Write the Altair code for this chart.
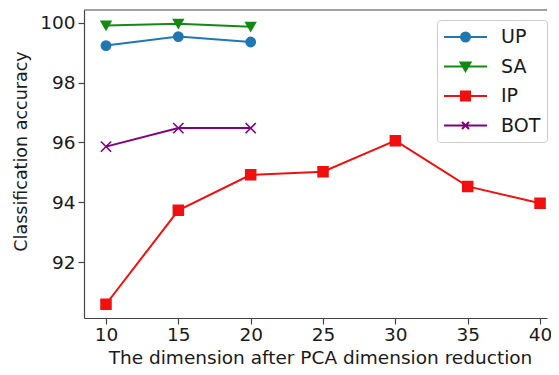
import altair as alt
import pandas as pd

series = ["UP", "SA", "IP", "BOT"]
colors = ["#1f77b4", "#138a13", "#f01010", "#800080"]
dims_short = [10, 15, 20]
dims_long = [10, 15, 20, 25, 30, 35, 40]
up = [99.24, 99.54, 99.36]
sa = [99.91, 99.97, 99.87]
ip = [90.59, 93.73, 94.92, 95.02, 96.06, 94.53, 93.97]
bot = [95.86, 96.48, 96.48]
x_ticks = [10, 15, 20, 25, 30, 35, 40]
y_ticks = [92, 94, 96, 98, 100]

rows = []
for name, xs, ys in [("UP", dims_short, up), ("SA", dims_short, sa),
                     ("IP", dims_long, ip), ("BOT", dims_short, bot)]:
    for xv, yv in zip(xs, ys):
        rows.append({"series": name, "dim": xv, "acc": yv})
df = pd.DataFrame(rows)

X_PATH = "M-1,-1L1,1M-1,1L1,-1"
marker_shapes = ["circle", "triangle-down", "square", X_PATH]
marker_sizes = [85, 105, 95, 60]
legend_shapes = [
    "M-1,0H3.3M0.7,0A0.45,0.45,0,1,0,1.6,0A0.45,0.45,0,1,0,0.7,0Z",
    "M-1,0H3.3M0.65,-0.4H1.65L1.15,0.45Z",
    "M-1,0H3.3M0.7,-0.45H1.6V0.45H0.7Z",
    "M-1,0H3.3M0.8,-0.35L1.5,0.35M0.8,0.35L1.5,-0.35",
]

W, H = 463, 308
ink = "#1a1a1a"
frame = "#444444"

xscale = alt.Scale(domain=[8.48, 40.48], nice=False, zero=False)
yscale = alt.Scale(domain=[90.13, 100.43], nice=False, zero=False)
cscale = alt.Scale(domain=series, range=colors)

x_enc = alt.X("dim:Q", scale=xscale, axis=alt.Axis(
    values=x_ticks, title="The dimension after PCA dimension reduction",
    labelFontSize=18.5, titleFontSize=18.5, tickSize=6, tickWidth=1.2,
    domainWidth=1.2, domainColor=frame, tickColor=frame, labelColor=ink,
    titleColor=ink, labelPadding=1, grid=False, titleFontWeight="normal",
    titleX=236, titleY=45, titleBaseline="alphabetic", titleAlign="center",
    labelFlush=False, labelFont="DejaVu Sans", titleFont="DejaVu Sans"))
y_enc = alt.Y("acc:Q", scale=yscale, axis=alt.Axis(
    values=y_ticks, title="Classification accuracy",
    labelFontSize=18.5, titleFontSize=17.5, tickSize=6, tickWidth=1.2,
    domainWidth=1.2, domainColor=frame, tickColor=frame, labelColor=ink,
    titleColor=ink, labelPadding=3, grid=False, titleFontWeight="normal",
    titleX=-58, titleY=141, titleBaseline="alphabetic", titleAlign="center",
    titleAngle=270, labelFlush=False, labelFont="DejaVu Sans",
    titleFont="DejaVu Sans"))

base = alt.Chart(df)

lines = base.mark_line(strokeWidth=2).encode(
    x=x_enc, y=y_enc,
    color=alt.Color("series:N", scale=cscale, legend=None),
    order=alt.Order("dim:Q"),
)

points = base.mark_point(filled=True, strokeWidth=1.6, opacity=1).encode(
    x=x_enc, y=y_enc,
    fill=alt.Fill("series:N", scale=cscale, legend=None),
    stroke=alt.Stroke("series:N", scale=cscale, legend=None),
    shape=alt.Shape("series:N", scale=alt.Scale(domain=series, range=marker_shapes), legend=None),
    size=alt.Size("series:N", scale=alt.Scale(domain=series, range=marker_sizes), legend=None),
)

leg = alt.Legend(
    title=None, orient="none", legendX=353, legendY=10, padding=6,
    fillColor="white", strokeColor="#cccccc", cornerRadius=3,
    labelFontSize=19, labelFont="DejaVu Sans", labelColor=ink,
    labelOffset=36, rowPadding=8.5, symbolSize=400, symbolStrokeWidth=2,
    symbolOpacity=1,
)

legend_layer = base.mark_point(filled=True, strokeWidth=2, opacity=1).encode(
    fill=alt.Fill("series:N", scale=cscale, legend=leg),
    stroke=alt.Stroke("series:N", scale=cscale, legend=leg),
    shape=alt.Shape("series:N", scale=alt.Scale(domain=series, range=legend_shapes), legend=leg),
).transform_filter("false")

top_border = alt.Chart(pd.DataFrame({"k": [0]})).mark_rule(
    color=frame, strokeWidth=1.2).encode(
    y=alt.value(0), x=alt.value(0), x2=alt.value(W))

chart = alt.layer(lines, points, legend_layer, top_border).resolve_scale(
    fill="independent", stroke="independent", shape="independent",
    color="independent", size="independent",
).properties(
    width=W, height=H,
    autosize=alt.AutoSizeParams(type="none"),
    padding={"left": 76, "top": 2, "right": 4, "bottom": 49},
    background="white",
).configure_view(stroke=None)

chart.save("out.html", embed_options={"renderer": "svg", "actions": False})
